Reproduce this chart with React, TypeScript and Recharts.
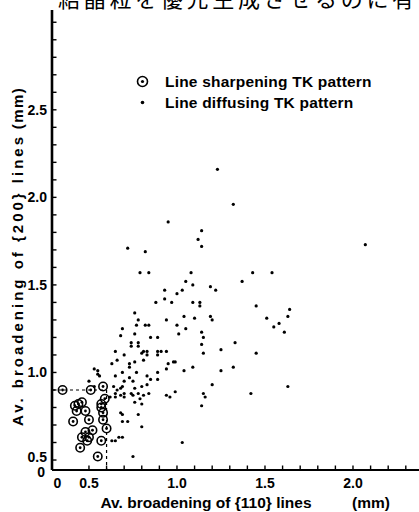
import { ScatterChart, Scatter, XAxis, YAxis, ReferenceLine, Legend } from "recharts";

// Line sharpening TK pattern (circled points)
const sharpX = [0.35, 0.51, 0.58, 0.59, 0.42, 0.46, 0.43, 0.48, 0.57, 0.58, 0.58, 0.5, 0.41, 0.6, 0.52, 0.48, 0.5, 0.46, 0.57, 0.45, 0.55, 0.44, 0.57, 0.49];
const sharpY = [0.9, 0.9, 0.92, 0.85, 0.81, 0.83, 0.78, 0.78, 0.82, 0.77, 0.73, 0.73, 0.72, 0.68, 0.67, 0.66, 0.63, 0.63, 0.61, 0.57, 0.52, 0.82, 0.8, 0.61];

// Line diffusing TK pattern (dots)
const diffX = [
  1.32, 0.95, 1.14, 1.12, 1.14, 0.72, 0.82, 0.79, 0.84, 1.08, 1.43, 1.54, 1.37, 1.05, 1.09, 1.19, 0.93, 1.03, 1.22, 1.0,
  0.93, 0.97, 0.88, 1.09, 1.13, 1.13, 1.45, 1.64, 0.76, 1.63, 1.04, 1.19, 1.2, 0.78, 1.1, 0.94, 1.51, 1.58, 1.0, 0.77,
  0.82, 0.84, 1.05, 0.69, 1.55, 1.61, 1.01, 1.14, 0.68, 0.76, 0.85, 0.89, 1.15, 1.33, 0.74, 0.78, 0.74, 0.78, 1.14, 0.65,
  0.81, 0.8, 0.83, 0.89, 0.91, 0.94, 1.25, 0.7, 0.83, 0.89, 1.15, 1.45, 0.81, 0.66, 0.73, 0.76, 0.63, 0.98, 0.99, 0.95,
  0.73, 0.94, 1.09, 1.32, 0.69, 0.77, 0.89, 1.04, 1.25, 0.65, 0.73, 0.83, 0.89, 0.75, 0.7, 0.85, 1.2, 0.8, 0.83, 0.69,
  0.68, 0.64, 0.76, 0.66, 1.63, 0.74, 0.78, 0.99, 1.15, 1.42, 0.94, 0.96, 1.16, 0.68, 0.65, 1.14, 1.03, 0.75, 0.63, 0.65,
  0.67, 0.69, 0.68, 0.69, 0.69, 0.72, 0.8, 0.78, 0.53, 0.55, 0.55, 0.56, 0.65, 0.7, 0.75, 0.79, 0.76, 0.8, 0.62, 0.7,
  0.5, 0.53, 0.81, 0.84, 1.23, 2.07,
];
const diffY = [
  1.96, 1.86, 1.81, 1.76, 1.72, 1.71, 1.69, 1.57, 1.57, 1.57, 1.57, 1.57, 1.52, 1.52, 1.5, 1.49, 1.47, 1.47, 1.47, 1.45,
  1.42, 1.4, 1.4, 1.4, 1.4, 1.38, 1.38, 1.36, 1.34, 1.32, 1.32, 1.32, 1.3, 1.3, 1.31, 1.3, 1.31, 1.28, 1.27, 1.27,
  1.27, 1.27, 1.25, 1.25, 1.26, 1.23, 1.22, 1.23, 1.21, 1.22, 1.2, 1.2, 1.2, 1.17, 1.17, 1.17, 1.15, 1.15, 1.16, 1.12,
  1.12, 1.11, 1.12, 1.12, 1.12, 1.12, 1.13, 1.1, 1.1, 1.1, 1.11, 1.11, 1.07, 1.07, 1.05, 1.06, 1.05, 1.06, 1.06, 1.05,
  1.03, 1.02, 1.03, 1.03, 1.0, 1.0, 1.0, 1.01, 1.01, 0.98, 0.97, 0.98, 0.96, 0.95, 0.95, 0.96, 0.93, 0.92, 0.93, 0.92,
  0.91, 0.92, 0.91, 0.9, 0.92, 0.88, 0.88, 0.89, 0.88, 0.88, 0.87, 0.86, 0.86, 0.87, 0.86, 0.81, 0.6, 0.52, 0.61, 0.61,
  0.63, 0.63, 0.77, 0.76, 0.72, 0.72, 0.69, 0.76, 1.02, 1.01, 0.99, 0.98, 0.88, 0.86, 0.87, 0.85, 0.83, 0.82, 0.86, 0.88,
  0.95, 0.92, 0.87, 0.88, 2.16, 1.73,
];

const xDomain = [0.29, 2.375];
const yDomain = [0.443, 3.07];
const sharpLimitX = 0.6;
const sharpLimitY = 0.9;

const xTicks = [0.32, 0.5, 0.6, 0.7, 0.8, 0.9, 1.0, 1.1, 1.2, 1.3, 1.4, 1.5, 1.6, 1.7, 1.8, 1.9, 2.0, 2.1, 2.2, 2.3];
const xTickValues = [0.32, 0.5, 1.0, 1.5, 2.0];
const xTickTexts = ["0", "0.5", "1.0", "1.5", "2.0"];
const yTicks = [0.443, 0.5, 0.6, 0.7, 0.8, 0.9, 1.0, 1.1, 1.2, 1.3, 1.4, 1.5, 1.6, 1.7, 1.8, 1.9, 2.0, 2.1, 2.2, 2.3, 2.4, 2.5, 2.6, 2.7, 2.8, 2.9, 3.0];
const yTickValues = [0.443, 0.5, 1.0, 1.5, 2.0, 2.5];
const yTickTexts = ["0", "0.5", "1.0", "1.5", "2.0", "2.5"];

const legendNames = ["Line sharpening TK pattern", "Line diffusing TK pattern"];
const headerText = "結晶粒を優先生成させるのに有";

const sharpData = sharpX.map((x, i) => ({ x, y: sharpY[i] }));
const diffData = diffX.map((x, i) => ({ x, y: diffY[i] }));

const FONT = '"Liberation Sans", Arial, sans-serif';

function findLabel(values: number[], texts: string[], v: number) {
  const i = values.findIndex((t) => Math.abs(t - v) < 1e-6);
  return i >= 0 ? texts[i] : null;
}

function XTick(props: any) {
  const { x, y, payload } = props;
  const v = payload.value;
  const label = findLabel(xTickValues, xTickTexts, v);
  return (
    <g>
      {v >= 0.5 && <line x1={x} x2={x} y1={y} y2={y - 4.5} stroke="#000" strokeWidth={1.4} />}
      {label && (
        <text x={x} y={y + 18} textAnchor="middle" fontFamily={FONT} fontWeight="bold" fontSize={14} fill="#000">
          {label}
        </text>
      )}
    </g>
  );
}

function YTick(props: any) {
  const { x, y, payload } = props;
  const v = payload.value;
  const label = findLabel(yTickValues, yTickTexts, v);
  // the broken-axis "0" and "0.5" sit close together: nudge them apart
  const dy = label === "0" ? 7 : label === "0.5" ? 2 : 5;
  return (
    <g>
      {v >= 0.5 && <line x1={x} x2={x + 4.5} y1={y} y2={y} stroke="#000" strokeWidth={1.4} />}
      {label && (
        <text x={label === "0" ? x - 7 : x - 5} y={y + dy} textAnchor="end" fontFamily={FONT} fontWeight="bold" fontSize={14} fill="#000">
          {label}
        </text>
      )}
    </g>
  );
}

function XLabel(props: any) {
  const { viewBox } = props;
  const { x, y } = viewBox;
  return (
    <g fontFamily={FONT} fontWeight="bold" fontSize={15.5} fill="#000">
      <text x={x + 154} y={y + 38} textAnchor="middle">Av. broadening of {"{110}"} lines</text>
      <text x={x + 319} y={y + 38} textAnchor="middle">(mm)</text>
    </g>
  );
}

function YLabel() {
  return (
    <g fontFamily={FONT} fontWeight="bold" fontSize={15} fill="#000">
      <text x={17} y={280} textAnchor="middle" dominantBaseline="central" letterSpacing={3} transform="rotate(-90, 17, 280)">
        Av. broadening of {"{200}"} lines
      </text>
      <text x={17} y={108} textAnchor="middle" dominantBaseline="central" letterSpacing={1.5} transform="rotate(-90, 17, 108)">
        (mm)
      </text>
    </g>
  );
}

const CircleMark = (props: any) => (
  <g>
    <circle cx={props.cx} cy={props.cy} r={4.2} fill="none" stroke="#000" strokeWidth={1.6} />
    <circle cx={props.cx} cy={props.cy} r={1.4} fill="#000" />
  </g>
);

const DotMark = (props: any) => <circle cx={props.cx} cy={props.cy} r={1.6} fill="#000" />;

function LegendBox() {
  return (
    <div style={{ fontFamily: FONT, fontWeight: "bold", fontSize: 15.5, letterSpacing: 0.2, lineHeight: "21px", color: "#000" }}>
      {legendNames.map((name, i) => (
        <div key={name} style={{ display: "flex", alignItems: "center", height: 21 }}>
          <svg width={34.5} height={21} style={{ flex: "none" }}>
            {i === 0 ? (
              <g>
                <circle cx={11.5} cy={10.5} r={5} fill="none" stroke="#000" strokeWidth={1.6} />
                <circle cx={11.5} cy={10.5} r={1.6} fill="#000" />
              </g>
            ) : (
              <circle cx={11.5} cy={10.5} r={1.8} fill="#000" />
            )}
          </svg>
          <span style={{ whiteSpace: "nowrap" }}>{name}</span>
        </div>
      ))}
    </div>
  );
}

export default function App() {
  return (
    <div style={{ position: "absolute", left: 0, top: 0, width: 419, height: 512, background: "#fff", overflow: "hidden" }}>
      <ScatterChart width={419} height={512} margin={{ top: 10, right: 0, bottom: 0, left: 0 }}>
        <XAxis
          type="number"
          dataKey="x"
          domain={xDomain}
          allowDataOverflow
          ticks={xTicks}
          interval={0}
          height={42}
          tickSize={0}
          tickMargin={0}
          tickLine={false}
          tick={XTick}
          axisLine={{ stroke: "#000", strokeWidth: 2.2 }}
          label={<XLabel />}
        />
        <YAxis
          type="number"
          dataKey="y"
          domain={yDomain}
          allowDataOverflow
          ticks={yTicks}
          interval={0}
          width={52}
          tickSize={0}
          tickMargin={0}
          tickLine={false}
          tick={YTick}
          axisLine={{ stroke: "#000", strokeWidth: 2.6 }}
          label={<YLabel />}
        />
        <ReferenceLine
          segment={[{ x: xDomain[0], y: sharpLimitY }, { x: sharpLimitX, y: sharpLimitY }]}
          stroke="#000"
          strokeWidth={1.2}
          strokeDasharray="3 3"
        />
        <ReferenceLine
          segment={[{ x: sharpLimitX, y: sharpLimitY }, { x: sharpLimitX, y: yDomain[0] }]}
          stroke="#000"
          strokeWidth={1.2}
          strokeDasharray="3 3"
        />
        <Scatter name={legendNames[1]} data={diffData} shape={DotMark} isAnimationActive={false} />
        <Scatter name={legendNames[0]} data={sharpData} shape={CircleMark} isAnimationActive={false} />
        <Legend
          layout="vertical"
          align="center"
          verticalAlign="middle"
          content={<LegendBox />}
          wrapperStyle={{ left: 130.5, top: 70.5, width: 285 }}
        />
      </ScatterChart>
      <svg width={419} height={20} style={{ position: "absolute", left: 0, top: 0 }}>
        <text x={58} y={7} fontFamily='"Noto Sans CJK JP", sans-serif' fontSize={22} letterSpacing={3.7} fill="#000">
          {headerText}
        </text>
      </svg>
    </div>
  );
}
